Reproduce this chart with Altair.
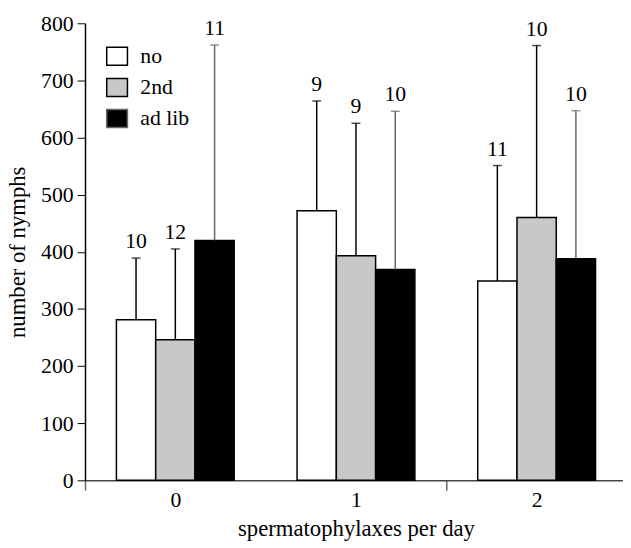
import altair as alt
import pandas as pd

days = ["0", "1", "2"]
treatments = ["no", "2nd", "ad lib"]
means = [[281, 246, 420], [472, 393, 369], [349, 460, 388]]
upper = [[389, 405, 762], [664, 625, 646], [551, 761, 647]]
counts = [[10, 12, 11], [9, 9, 10], [11, 10, 10]]
y_ticks = [0, 100, 200, 300, 400, 500, 600, 700, 800]

rows = []
for i, d in enumerate(days):
    for j, t in enumerate(treatments):
        rows.append({"day": d, "treatment": t, "mean": means[i][j],
                     "upper": upper[i][j], "n": counts[i][j]})
df = pd.DataFrame(rows)

FONT = "Liberation Serif"
RECT = "M-1,-0.87L1,-0.87L1,0.87L-1,0.87Z"

x_enc = alt.X(
    "day:N", sort=days,
    scale=alt.Scale(range=[0, 549], paddingInner=0, paddingOuter=0),
    axis=alt.Axis(
        title="spermatophylaxes per day", labelAngle=0, tickBand="extent",
        tickSize=10, tickColor="#666", tickWidth=1.5,
        tickOpacity={"condition": {"test": "datum.value == '0'", "value": 0}, "value": 1},
        domainColor="#444", domainWidth=1.5, labelPadding=0,
        titleY=56, titleBaseline="alphabetic",
    ),
)
xo_enc = alt.XOffset("treatment:N", sort=treatments,
                     scale=alt.Scale(paddingOuter=0.8, paddingInner=0))
y_scale = alt.Scale(domain=[0, 800])

base = alt.Chart(df).encode(x=x_enc, xOffset=xo_enc)

bars = base.mark_bar(stroke="black", strokeWidth=1.5).encode(
    y=alt.Y("mean:Q", scale=y_scale, axis=alt.Axis(
        values=y_ticks, title="number of nymphs", grid=False, tickSize=8,
        tickColor="black", domainColor="black", domainWidth=1.5, labelPadding=4,
        titleX=-61, titleY=231.5, titleBaseline="alphabetic", titleAlign="center",
    )),
    fill=alt.Fill("treatment:N", sort=treatments,
                  scale=alt.Scale(domain=treatments, range=["white", "#c8c8c8", "black"]),
                  legend=alt.Legend(
                      orient="none", legendX=21, legendY=22, title=None,
                      symbolType=RECT, symbolSize=441,
                      symbolStrokeColor="black", symbolStrokeWidth=1.5,
                      labelFontSize=22, labelFont=FONT, labelOffset=12,
                      rowPadding=6.5, padding=0,
                  )),
)

rules = base.mark_rule(strokeWidth=1.5).encode(
    y=alt.Y("mean:Q", scale=y_scale), y2="upper:Q",
    stroke=alt.Stroke("treatment:N",
                      scale=alt.Scale(domain=treatments, range=["black", "black", "#666"]),
                      legend=None),
)

caps = base.mark_tick(size=9, thickness=1.5, orient="horizontal").encode(
    y=alt.Y("upper:Q", scale=y_scale),
    color=alt.Color("treatment:N",
                    scale=alt.Scale(domain=treatments, range=["black", "black", "#666"]),
                    legend=None),
)

labels = base.mark_text(baseline="alphabetic", dy=-10, fontSize=22, font=FONT,
                        color="black").encode(
    y=alt.Y("upper:Q", scale=y_scale), text="n:Q")

chart = alt.layer(bars, rules, caps, labels).properties(
    width=545, height=463,
    padding={"left": 78, "top": 12, "right": 0, "bottom": 59},
    autosize="none",
).configure_view(stroke=None).configure_axis(
    labelFont=FONT, titleFont=FONT, labelFontSize=22, titleFontSize=23,
    labelColor="black", titleColor="black", titleFontWeight="normal",
).configure_legend(labelColor="black")

chart.save("out.html", embed_options={"renderer": "svg", "actions": False})
